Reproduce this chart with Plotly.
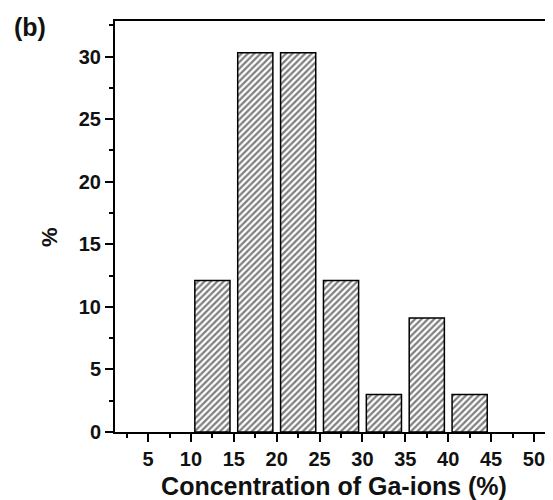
import plotly.graph_objects as go

# Data
bin_centers = [12.5, 17.5, 22.5, 27.5, 32.5, 37.5, 42.5]
percent = [12.1, 30.3, 30.3, 12.1, 3.0, 9.1, 3.0]
x_ticks = [5, 10, 15, 20, 25, 30, 35, 40, 45, 50]
y_ticks = [0, 5, 10, 15, 20, 25, 30]

FONT = "Liberation Sans, Arial, sans-serif"
PAGE_PAD = 8  # default body margin of the html page

# plot area in screen pixels (for placing free text)
PX_L, PX_R, PX_T, PX_B = 115, 553, 21, 432


def paper_x(px):
    return (px - PX_L) / (PX_R - PX_L)


def paper_y(py):
    return (PX_B - py) / (PX_B - PX_T)


fig = go.Figure()
fig.add_trace(go.Bar(
    x=bin_centers,
    y=percent,
    width=4.1,
    marker=dict(
        color="white",
        line=dict(color="black", width=1.5),
        pattern=dict(shape="/", fgcolor="black", bgcolor="white", size=4.5, solidity=0.5),
    ),
))

fig.update_layout(
    width=553 - PAGE_PAD, height=500 - PAGE_PAD,
    margin=dict(l=PX_L - PAGE_PAD, r=0, t=PX_T - PAGE_PAD, b=500 - PX_B, pad=0),
    plot_bgcolor="white", paper_bgcolor="white",
    showlegend=False,
    font=dict(family=FONT, color="black"),
    xaxis=dict(
        range=[1.14, 52.22],
        tickvals=x_ticks,
        ticks="outside", ticklen=8, tickwidth=1.5, tickcolor="black",
        minor=dict(dtick=2.5, tick0=0, ticks="outside", ticklen=4, tickwidth=1.5, tickcolor="black"),
        showline=True, linecolor="black", linewidth=2, mirror=True,
        showgrid=False, zeroline=False,
        tickfont=dict(size=20, family=FONT, weight="bold", color="#111"),
        title=dict(text="Concentration of Ga-ions (%)",
                   font=dict(size=25, family=FONT, weight="bold", color="#111"),
                   standoff=9),
    ),
    yaxis=dict(
        range=[0, 32.84],
        tickvals=y_ticks,
        ticks="outside", ticklen=8, tickwidth=1.5, tickcolor="black",
        minor=dict(dtick=2.5, tick0=0, ticks="outside", ticklen=4, tickwidth=1.5, tickcolor="black"),
        showline=True, linecolor="black", linewidth=2, mirror=False,
        showgrid=False, zeroline=False,
        tickfont=dict(size=20, family=FONT, weight="bold", color="#111"),
    ),
    annotations=[
        dict(
            text="(b)", xref="paper", yref="paper", showarrow=False,
            x=paper_x(12), y=paper_y(27),
            xanchor="left", yanchor="middle",
            font=dict(size=25, family=FONT, weight="bold", color="#111"),
        ),
        dict(
            text="%", xref="paper", yref="paper", showarrow=False,
            x=paper_x(49), y=paper_y(237), textangle=-90,
            xanchor="center", yanchor="middle",
            font=dict(size=22, family=FONT, weight="bold", color="#111"),
        ),
    ],
)

fig.write_html("out.html")
